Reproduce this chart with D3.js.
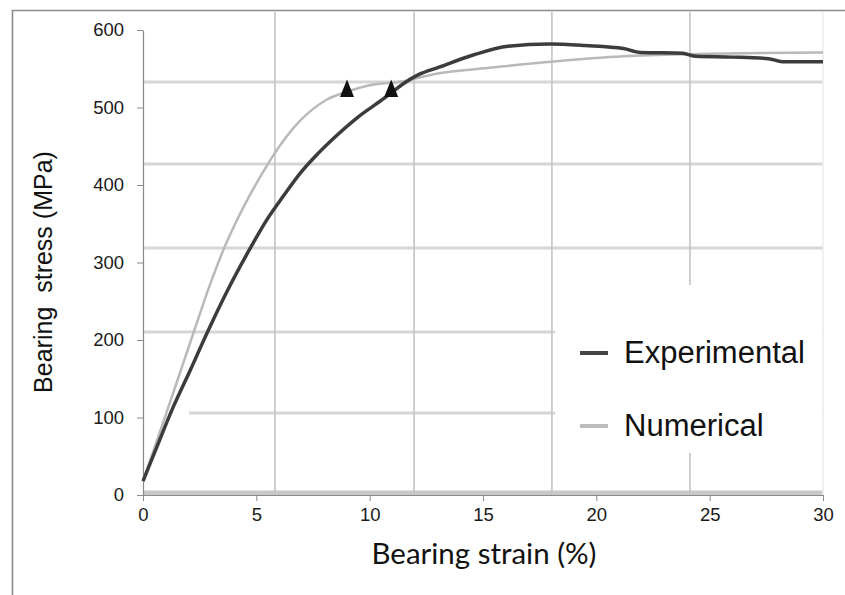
<!DOCTYPE html>
<html>
<head>
<meta charset="utf-8">
<script src="https://cdn.jsdelivr.net/npm/d3@7"></script>
<style>
  body { margin: 0; background: #fff; }
  svg { display: block; }
</style>
</head>
<body>
<script>
// experimental curve (strain %, stress MPa)
var expStrain = [0, 0.5, 1.34, 2.1, 2.81, 3.8, 4.8, 5.46, 6.2, 6.93, 7.7, 8.4, 9.5, 10.6, 11.0, 11.5, 12.2, 13.06, 14.6, 16.1, 17.95, 19.5, 21.2, 21.95, 23.8, 24.4, 26.0, 27.6, 28.2, 30];
var expStress = [18, 54, 114, 162, 208, 268, 322, 355, 386, 415, 440, 460, 488, 511, 520, 531, 543, 552, 568, 579, 582, 580, 576, 571, 570, 566, 565, 563, 559, 559];

// numerical curve
var numStrain = [0, 1.0, 2.2, 3.0, 3.6, 4.1, 5.2, 5.7, 6.9, 8.1, 9.06, 9.9, 11.5, 13.0, 15.2, 18.0, 21.2, 24.4, 30];
var numStress = [18, 103, 207, 275, 320, 352, 412, 436, 482, 510, 521, 528, 534, 544, 551, 559, 566, 569, 571];

// triangle markers
var markStrain = [9.0, 10.95];
var markStress = [521, 521];

var xTicks = [0, 5, 10, 15, 20, 25, 30];
var yTicks = [0, 100, 200, 300, 400, 500, 600];

// grid of the pasted background picture (does not line up with ticks)
var bgGridStrain = [5.82, 11.96, 18.04, 24.13];
var bgGridStress = [532.9, 427, 318.7, 210.3, 105.8, 2.6];

var w = 845, h = 595;
var svg = d3.select("body").append("svg")
    .attr("width", w)
    .attr("height", h);

var x = d3.scaleLinear().domain([0, 30]).range([143, 823]);
var y = d3.scaleLinear().domain([0, 600]).range([495, 30]);

// outer frame (left + top only)
svg.append("path")
    .attr("d", "M12.5,595V10.5H845")
    .attr("fill", "none")
    .attr("stroke", "#8c8c8c")
    .attr("stroke-width", 1.6);

// background gridlines
svg.selectAll("line.hgrid")
    .data(bgGridStress)
    .enter()
    .append("line")
    .attr("class", "hgrid")
    .attr("x1", function(d, i) { return i == 4 ? 189 : 143; })
    .attr("x2", x(30))
    .attr("y1", function(d) { return y(d); })
    .attr("y2", function(d) { return y(d); })
    .attr("stroke", function(d, i) { return i == 5 ? "#c8c8c8" : "#d6d6d6"; })
    .attr("stroke-width", function(d, i) { return i == 5 ? 5 : 3; });

svg.selectAll("line.vgrid")
    .data(bgGridStrain)
    .enter()
    .append("line")
    .attr("class", "vgrid")
    .attr("x1", function(d) { return x(d); })
    .attr("x2", function(d) { return x(d); })
    .attr("y1", 12)
    .attr("y2", y(0))
    .attr("stroke", "#c4c4c4")
    .attr("stroke-width", 1.6);

svg.append("line")
    .attr("x1", x(30)).attr("x2", x(30))
    .attr("y1", 12).attr("y2", y(0))
    .attr("stroke", "#ececec")
    .attr("stroke-width", 1.5);

// legend box sits on top of the grid
svg.append("rect")
    .attr("x", 555)
    .attr("y", 285)
    .attr("width", 267)
    .attr("height", 168)
    .attr("fill", "#fff");

// axes
var xAxis = svg.append("g")
    .attr("transform", "translate(0," + y(0) + ")")
    .call(d3.axisBottom(x).tickValues(xTicks).tickSize(6).tickPadding(7).tickSizeOuter(0));
var yAxis = svg.append("g")
    .attr("transform", "translate(" + x(0) + ",0)")
    .call(d3.axisLeft(y).tickValues(yTicks).tickSize(6).tickPadding(13).tickSizeOuter(0));

[xAxis, yAxis].forEach(function(g) {
    g.select(".domain").attr("stroke", "#8a8a8a").attr("stroke-width", 1.2);
    g.selectAll(".tick line").attr("stroke", "#8a8a8a");
    g.selectAll(".tick text")
        .attr("fill", "#1a1a1a")
        .attr("font-family", "Liberation Sans, Arial, sans-serif")
        .attr("font-size", "18.5px");
});

// curves
var line = d3.line()
    .x(function(d) { return x(d[0]); })
    .y(function(d) { return y(d[1]); })
    .curve(d3.curveMonotoneX);

var numData = numStrain.map(function(s, i) { return [s, numStress[i]]; });
var expData = expStrain.map(function(s, i) { return [s, expStress[i]]; });

svg.append("path")
    .datum(numData)
    .attr("d", line)
    .attr("fill", "none")
    .attr("stroke", "#b9b9b9")
    .attr("stroke-width", 2.5);

svg.append("path")
    .datum(expData)
    .attr("d", line)
    .attr("fill", "none")
    .attr("stroke", "#3c3c3c")
    .attr("stroke-width", 3.5);

// triangles
svg.selectAll("path.mark")
    .data(markStrain)
    .enter()
    .append("path")
    .attr("class", "mark")
    .attr("d", d3.symbol().type(d3.symbolTriangle).size(85))
    .attr("transform", function(d, i) {
        return "translate(" + x(d) + "," + y(markStress[i]) + ") scale(1,1.45)";
    })
    .attr("fill", "#111");

// legend
var legNames = ["Experimental", "Numerical"];
var legColors = ["#444", "#bdbdbd"];
var leg = svg.selectAll("g.leg")
    .data(legNames)
    .enter()
    .append("g")
    .attr("class", "leg")
    .attr("transform", function(d, i) { return "translate(580," + (353 + i * 73) + ")"; });
leg.append("line")
    .attr("x1", 0).attr("x2", 28)
    .attr("stroke", function(d, i) { return legColors[i]; })
    .attr("stroke-width", 4);
leg.append("text")
    .attr("x", 44)
    .attr("y", 10)
    .attr("font-family", "Liberation Sans, Arial, sans-serif")
    .attr("font-size", "31px")
    .attr("fill", "#111")
    .text(function(d) { return d; });

// axis titles
svg.append("text")
    .attr("transform", "translate(52,272) rotate(-90)")
    .attr("text-anchor", "middle")
    .attr("font-family", "Liberation Sans, Arial, sans-serif")
    .attr("font-size", "25px")
    .attr("fill", "#111")
    .style("white-space", "pre")
    .text("Bearing  stress (MPa)");

svg.append("text")
    .attr("x", 484)
    .attr("y", 564)
    .attr("text-anchor", "middle")
    .attr("font-family", "Lato, sans-serif")
    .attr("font-size", "29px")
    .attr("textLength", 225)
    .attr("lengthAdjust", "spacingAndGlyphs")
    .attr("fill", "#111")
    .text("Bearing strain (%)");
</script>
</body>
</html>
